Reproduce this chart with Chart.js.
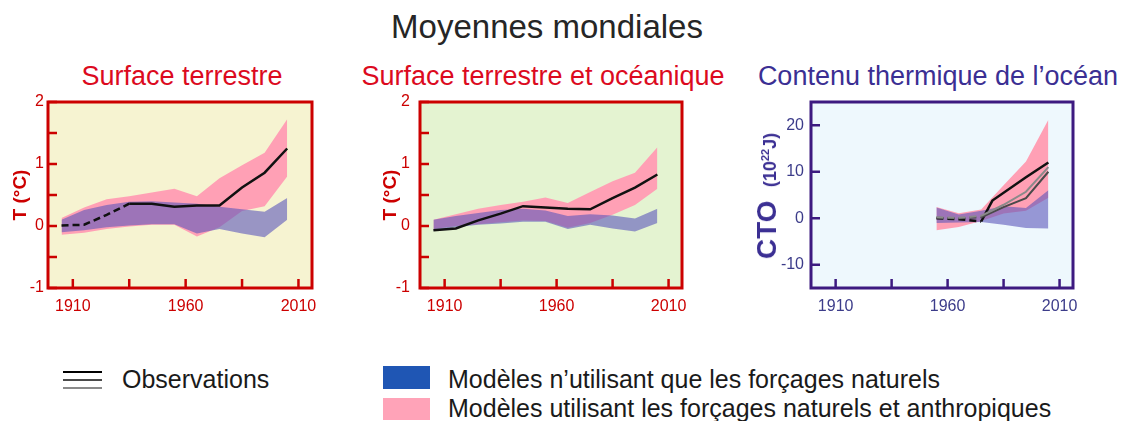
<!DOCTYPE html>
<html>
<head>
<meta charset="utf-8">
<script src="https://cdn.jsdelivr.net/npm/chart.js@4.4.1/dist/chart.umd.min.js"></script>
<style>
  body { margin: 0; width: 1128px; height: 421px; background: #fff; position: relative; overflow: hidden;
         font-family: "Liberation Sans", Arial, sans-serif; }
  .t { position: absolute; white-space: nowrap; line-height: 1; }
  .c { transform: translateX(-50%); }
  canvas { position: absolute; top: 60px; }
  .bar { position: absolute; left: 63px; width: 39px; height: 2.5px; }
  .sw { position: absolute; left: 383px; width: 47px; }
</style>
</head>
<body>
<div class="t c" style="left:547px;top:10px;font-size:33px;color:#262626">Moyennes mondiales</div>
<div class="t c" style="left:182px;top:63px;font-size:27px;color:#dc0a1e">Surface terrestre</div>
<div class="t c" style="left:543px;top:63px;font-size:27px;color:#dc0a1e">Surface terrestre et océanique</div>
<div class="t c" style="left:938px;top:63px;font-size:27px;color:#3b2f93">Contenu thermique de l’océan</div>

<canvas id="land" width="330" height="270" style="left:0px"></canvas>
<canvas id="global" width="330" height="270" style="left:370px"></canvas>
<canvas id="ocean" width="350" height="270" style="left:740px"></canvas>

<div class="t" style="left:767px;top:196px;transform:translate(-50%,-50%) rotate(-90deg);color:#3b2f93;font-weight:bold">
  <span style="font-size:28px">CTO</span>&nbsp;&nbsp;&nbsp;<span style="font-size:18px">(10<sup style="font-size:11px">22</sup>J)</span>
</div>

<div class="bar" style="top:370.5px;background:#000"></div>
<div class="bar" style="top:378.5px;background:#4a4a4a"></div>
<div class="bar" style="top:386.5px;background:#8a8a8a"></div>
<div class="t" style="left:122px;top:367px;font-size:25px;color:#1a1a1a">Observations</div>
<div class="sw" style="top:366px;height:23px;background:#1f56b4"></div>
<div class="sw" style="top:398px;height:22px;background:#ffa3b8"></div>
<div class="t" style="left:448px;top:367px;font-size:25px;color:#1a1a1a">Modèles n’utilisant que les forçages naturels</div>
<div class="t" style="left:448px;top:396px;font-size:25px;color:#1a1a1a">Modèles utilisant les forçages naturels et anthropiques</div>

<script>
// decade centres
const years = [1905, 1915, 1925, 1935, 1945, 1955, 1965, 1975, 1985, 1995, 2005];
const xTicks = [1910, 1935, 1960, 1985, 2010];
const xLabels = [1910, 1960, 2010];
const tempTicks = [-1, -0.5, 0, 0.5, 1, 1.5, 2];
const ohcTicks = [-10, 0, 10, 20];

// Surface terrestre
const obsLand = [0.01, 0.02, 0.18, 0.36, 0.36, 0.31, 0.33, 0.33, 0.62, 0.86, 1.25];
const anthHighLand = [0.13, 0.3, 0.43, 0.48, 0.54, 0.6, 0.48, 0.77, 0.98, 1.18, 1.72];
const anthLowLand = [-0.14, -0.11, -0.05, -0.01, 0.02, 0.02, -0.17, -0.02, 0.24, 0.32, 0.8];
const natHighLand = [0.1, 0.26, 0.34, 0.39, 0.4, 0.38, 0.36, 0.31, 0.27, 0.23, 0.45];
const natLowLand = [-0.1, -0.07, -0.02, 0.01, 0.03, 0.03, -0.12, -0.05, -0.12, -0.18, 0.1];

// Surface terrestre et océanique
const obsGlobal = [-0.07, -0.04, 0.09, 0.2, 0.32, 0.3, 0.28, 0.27, 0.45, 0.62, 0.83];
const anthHighGlobal = [0.1, 0.19, 0.28, 0.34, 0.39, 0.46, 0.37, 0.55, 0.72, 0.86, 1.27];
const anthLowGlobal = [-0.05, 0.0, 0.03, 0.06, 0.09, 0.08, -0.03, 0.05, 0.18, 0.34, 0.6];
const natHighGlobal = [0.1, 0.16, 0.21, 0.26, 0.28, 0.25, 0.16, 0.19, 0.17, 0.12, 0.28];
const natLowGlobal = [-0.08, -0.02, 0.02, 0.04, 0.07, 0.07, -0.05, 0.02, -0.04, -0.09, 0.05];

// Contenu thermique de l'océan
const yearsOcean = [1955, 1965, 1975, 1985, 1995, 2005];
const anthHighOcean = [2.4, 1.1, 1.9, 7.1, 12.2, 21.2];
const anthLowOcean = [-2.6, -1.9, -0.6, 1.0, 1.6, 4.4];
const natHighOcean = [2.3, 0.8, 1.6, 2.6, 2.2, 6.0];
const natLowOcean = [-1.0, -0.9, -0.8, -1.4, -2.1, -2.2];
const obsOceanYearsA = [1955, 1965, 1975, 1980, 1995, 2005];
const obsOceanA = [0, -0.2, -0.7, 3.8, 8.8, 12.0];
const obsOceanB = [0.1, 0, 0.2, 2.4, 4.3, 10.0];
const obsOceanC = [0.2, 0.1, 0.5, 2.9, 5.7, 11.0];

Chart.defaults.font.family = '"Liberation Sans", Arial, sans-serif';

const PINK = 'rgb(255,160,181)';
const BLUE = 'rgba(92,86,187,0.6)';
const RED = '#cc0000';
const VIOLET = '#3d1a80';

const pts = (xs, ys) => xs.map((x, i) => ({x, y: ys[i]}));

const band = (xs, hi, lo, color, order) => [
  {data: pts(xs, hi), fill: '+1', backgroundColor: color, borderColor: 'transparent', borderWidth: 0, order},
  {data: pts(xs, lo), fill: false, borderColor: 'transparent', borderWidth: 0, order}
];

const obsLine = (xs, ys, color, width, dashUntil) => ({
  data: pts(xs, ys), fill: false, borderColor: color, borderWidth: width, order: 1,
  segment: {borderDash: ctx => ctx.p1.parsed.x <= dashUntil ? [7, 4] : undefined}
});

const frame = {
  id: 'frame',
  beforeDraw(chart, args, o) {
    const {ctx, chartArea: a} = chart;
    ctx.save();
    ctx.fillStyle = o.bg;
    ctx.fillRect(a.left, a.top, a.width, a.height);
    ctx.restore();
  },
  afterDraw(chart, args, o) {
    const {ctx, chartArea: a, scales} = chart;
    ctx.save();
    ctx.strokeStyle = o.color;
    ctx.lineWidth = 2.5;
    ctx.beginPath();
    scales.x.ticks.forEach(t => {
      const px = scales.x.getPixelForValue(t.value);
      ctx.moveTo(px, a.bottom); ctx.lineTo(px, a.bottom - 9);
    });
    scales.y.ticks.forEach(t => {
      const py = scales.y.getPixelForValue(t.value);
      ctx.moveTo(a.left, py); ctx.lineTo(a.left + 9, py);
    });
    ctx.stroke();
    ctx.lineWidth = 3;
    ctx.strokeRect(a.left, a.top, a.width, a.height);
    ctx.restore();
  }
};

function makePanel(id, datasets, p) {
  new Chart(document.getElementById(id), {
    type: 'line',
    data: {datasets},
    plugins: [frame],
    options: {
      responsive: false,
      animation: false,
      events: [],
      layout: {padding: {top: 42, right: p.right, left: 0, bottom: 0}},
      elements: {point: {radius: 0}, line: {tension: 0}},
      plugins: {legend: {display: false}, tooltip: {enabled: false}, frame: {bg: p.bg, color: p.border}},
      scales: {
        x: {
          type: 'linear', min: 1899, max: 2016,
          grid: {display: false, drawTicks: false}, border: {display: false},
          afterBuildTicks: s => { s.ticks = xTicks.map(v => ({value: v})); },
          afterFit: s => { s.height = 42; },
          ticks: {color: p.tickColor, font: {size: 16}, padding: 9, maxRotation: 0, autoSkip: false,
                  callback: v => xLabels.includes(v) ? String(v) : ''}
        },
        y: {
          min: p.ymin, max: p.ymax,
          grid: {display: false, drawTicks: false}, border: {display: false},
          afterBuildTicks: s => { s.ticks = p.yTicks.map(v => ({value: v})); },
          afterFit: s => { s.width = p.yWidth; },
          ticks: {color: p.tickColor, font: {size: 16}, padding: p.yPad, autoSkip: false,
                  callback: v => Number.isInteger(v) ? String(v) : ''},
          title: p.yTitle ? {display: true, text: p.yTitle, color: RED, font: {size: 19, weight: 'bold'},
                             padding: {top: 9, bottom: 0}} : {display: false}
        }
      }
    }
  });
}

makePanel('land', [
  ...band(years, anthHighLand, anthLowLand, PINK, 3),
  ...band(years, natHighLand, natLowLand, BLUE, 2),
  obsLine(years, obsLand, '#111', 2.5, 1935)
], {bg: '#f6f3d1', border: RED, tickColor: RED, right: 18, yWidth: 48, yPad: 4,
    ymin: -1, ymax: 2, yTicks: tempTicks, yTitle: 'T (°C)'});

makePanel('global', [
  ...band(years, anthHighGlobal, anthLowGlobal, PINK, 3),
  ...band(years, natHighGlobal, natLowGlobal, BLUE, 2),
  obsLine(years, obsGlobal, '#111', 2.5, 1900)
], {bg: '#e4f3d1', border: RED, tickColor: RED, right: 18, yWidth: 50, yPad: 10,
    ymin: -1, ymax: 2, yTicks: tempTicks, yTitle: 'T (°C)'});

makePanel('ocean', [
  ...band(yearsOcean, anthHighOcean, anthLowOcean, PINK, 3),
  ...band(yearsOcean, natHighOcean, natLowOcean, BLUE, 2),
  obsLine(yearsOcean, obsOceanC, '#8a8a8a', 2, 1975),
  obsLine(yearsOcean, obsOceanB, '#4a4a4a', 2, 1975),
  obsLine(obsOceanYearsA, obsOceanA, '#111', 2.5, 1975)
], {bg: '#eef8fd', border: VIOLET, tickColor: '#3c3c8a', right: 17, yWidth: 71, yPad: 7,
    ymin: -15, ymax: 25, yTicks: ohcTicks, yTitle: null});
</script>
</body>
</html>
